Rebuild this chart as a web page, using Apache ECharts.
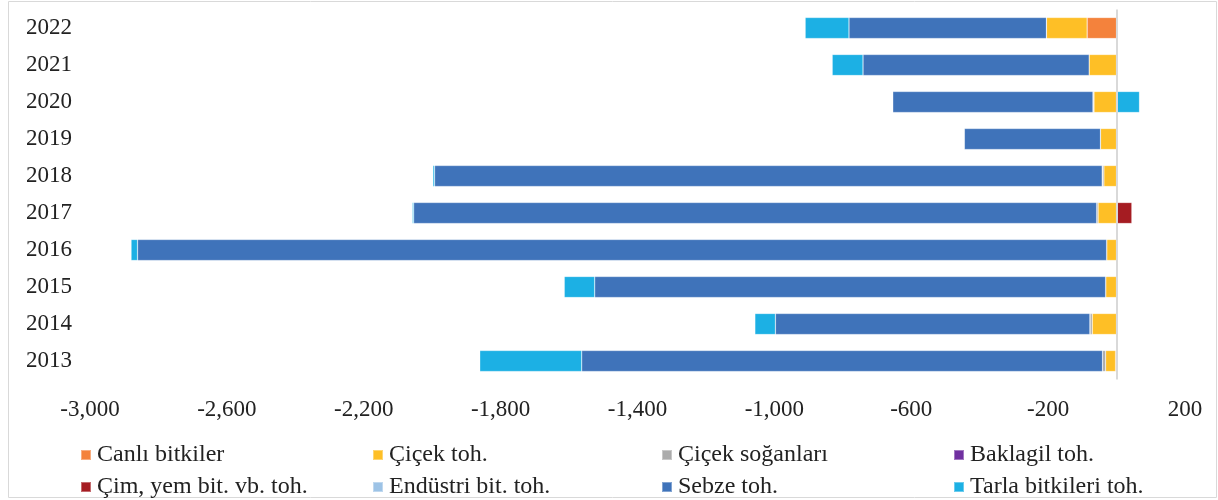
<!DOCTYPE html>
<html>
<head>
<meta charset="utf-8">
<script src="https://cdn.jsdelivr.net/npm/echarts@6/dist/echarts.min.js"></script>
<style>
  html, body { margin: 0; padding: 0; background: #fff; }
  #main { width: 1218px; height: 500px; }
</style>
</head>
<body>
<div id="main"></div>
<script>
// yillar (alttan uste)
var years = ['2013', '2014', '2015', '2016', '2017', '2018', '2019', '2020', '2021', '2022'];

// seri degerleri
var canliBitkiler = [-3, 0, 0, 0, 0, 0, 0, 0, 0, -86];
var cicekToh = [-29, -71, -32, -29, -54, -37, -47, -66, -80, -119];
var cicekSoganlari = [-9, -7, 0, 0, -4, -5, 0, -3, 3, 0];
var baklagilToh = [0, 0, 0, 0, 0, 0, 0, 0, 0, 0];
var cimYemToh = [0, 0, 0, 0, 45, 0, 0, 0, 0, 0];
var endustriToh = [0, 0, 0, 0, 0, 0, 0, 0, 0, 0];
var sebzeToh = [-1522, -919, -1493, -2832, -1996, -1951, -398, -585, -661, -577];
var tarlaToh = [-298, -60, -89, -19, -4, -5, 0, 67, -90, -128];

var seriesNames = ['Canlı bitkiler', 'Çiçek toh.', 'Çiçek soğanları', 'Baklagil toh.',
  'Çim, yem bit. vb. toh.', 'Endüstri bit. toh.', 'Sebze toh.', 'Tarla bitkileri toh.'];
var seriesData = [canliBitkiler, cicekToh, cicekSoganlari, baklagilToh,
  cimYemToh, endustriToh, sebzeToh, tarlaToh];
var colors = ['#F4823C', '#FEBF26', '#ABABAB', '#7030A0', '#A51C22', '#9DC3E6', '#3F73BA', '#1CB0E4'];

var font = 'Liberation Serif';
var myChart = echarts.init(document.getElementById('main'));

var series = seriesNames.map(function (name, i) {
  var s = {
    name: name,
    type: 'bar',
    stack: 'toplam',
    barWidth: 21,
    data: seriesData[i],
    itemStyle: { color: colors[i], borderColor: 'rgba(255,255,255,0.35)', borderWidth: 0.6 }
  };
  if (i === 0) {
    // sifir cizgisi
    s.markLine = {
      silent: true,
      symbol: 'none',
      label: { show: false },
      lineStyle: { color: '#D9D9D9', width: 2, type: 'solid' },
      data: [{ xAxis: 0 }]
    };
  }
  return s;
});

// legend: 4 sutun, 2 satir
var colLeft = [80, 372, 661, 953];
var rowTop = [443, 475];
var legends = seriesNames.map(function (name, i) {
  return {
    data: [name],
    left: colLeft[i % 4],
    top: rowTop[Math.floor(i / 4)],
    padding: 0,
    itemWidth: 10,
    itemHeight: 10,
    icon: 'rect',
    selectedMode: false,
    textStyle: { fontFamily: font, fontSize: 24, color: '#222', padding: [0, 0, 0, 1] }
  };
});

myChart.setOption({
  animation: false,
  color: colors,
  graphic: [{
    type: 'rect',
    shape: { x: 8.5, y: 1.5, width: 1208, height: 496 },
    style: { fill: 'none', stroke: '#D9D9D9', lineWidth: 1 },
    silent: true
  }],
  grid: { left: 90, right: 33, top: 9.5, height: 370 },
  legend: legends,
  xAxis: {
    type: 'value',
    min: -3000,
    max: 200,
    interval: 200,
    splitLine: { show: false },
    axisLine: { show: false },
    axisTick: { show: false },
    axisLabel: {
      fontFamily: font,
      fontSize: 23,
      color: '#222',
      margin: 19,
      formatter: function (v) {
        if ((v + 3000) % 400 !== 0) return '';
        return v.toLocaleString('en-US');
      }
    }
  },
  yAxis: {
    type: 'category',
    data: years,
    axisLine: { show: false },
    axisTick: { show: false },
    axisLabel: { fontFamily: font, fontSize: 23, color: '#222', margin: 18 }
  },
  series: series
});
</script>
</body>
</html>
